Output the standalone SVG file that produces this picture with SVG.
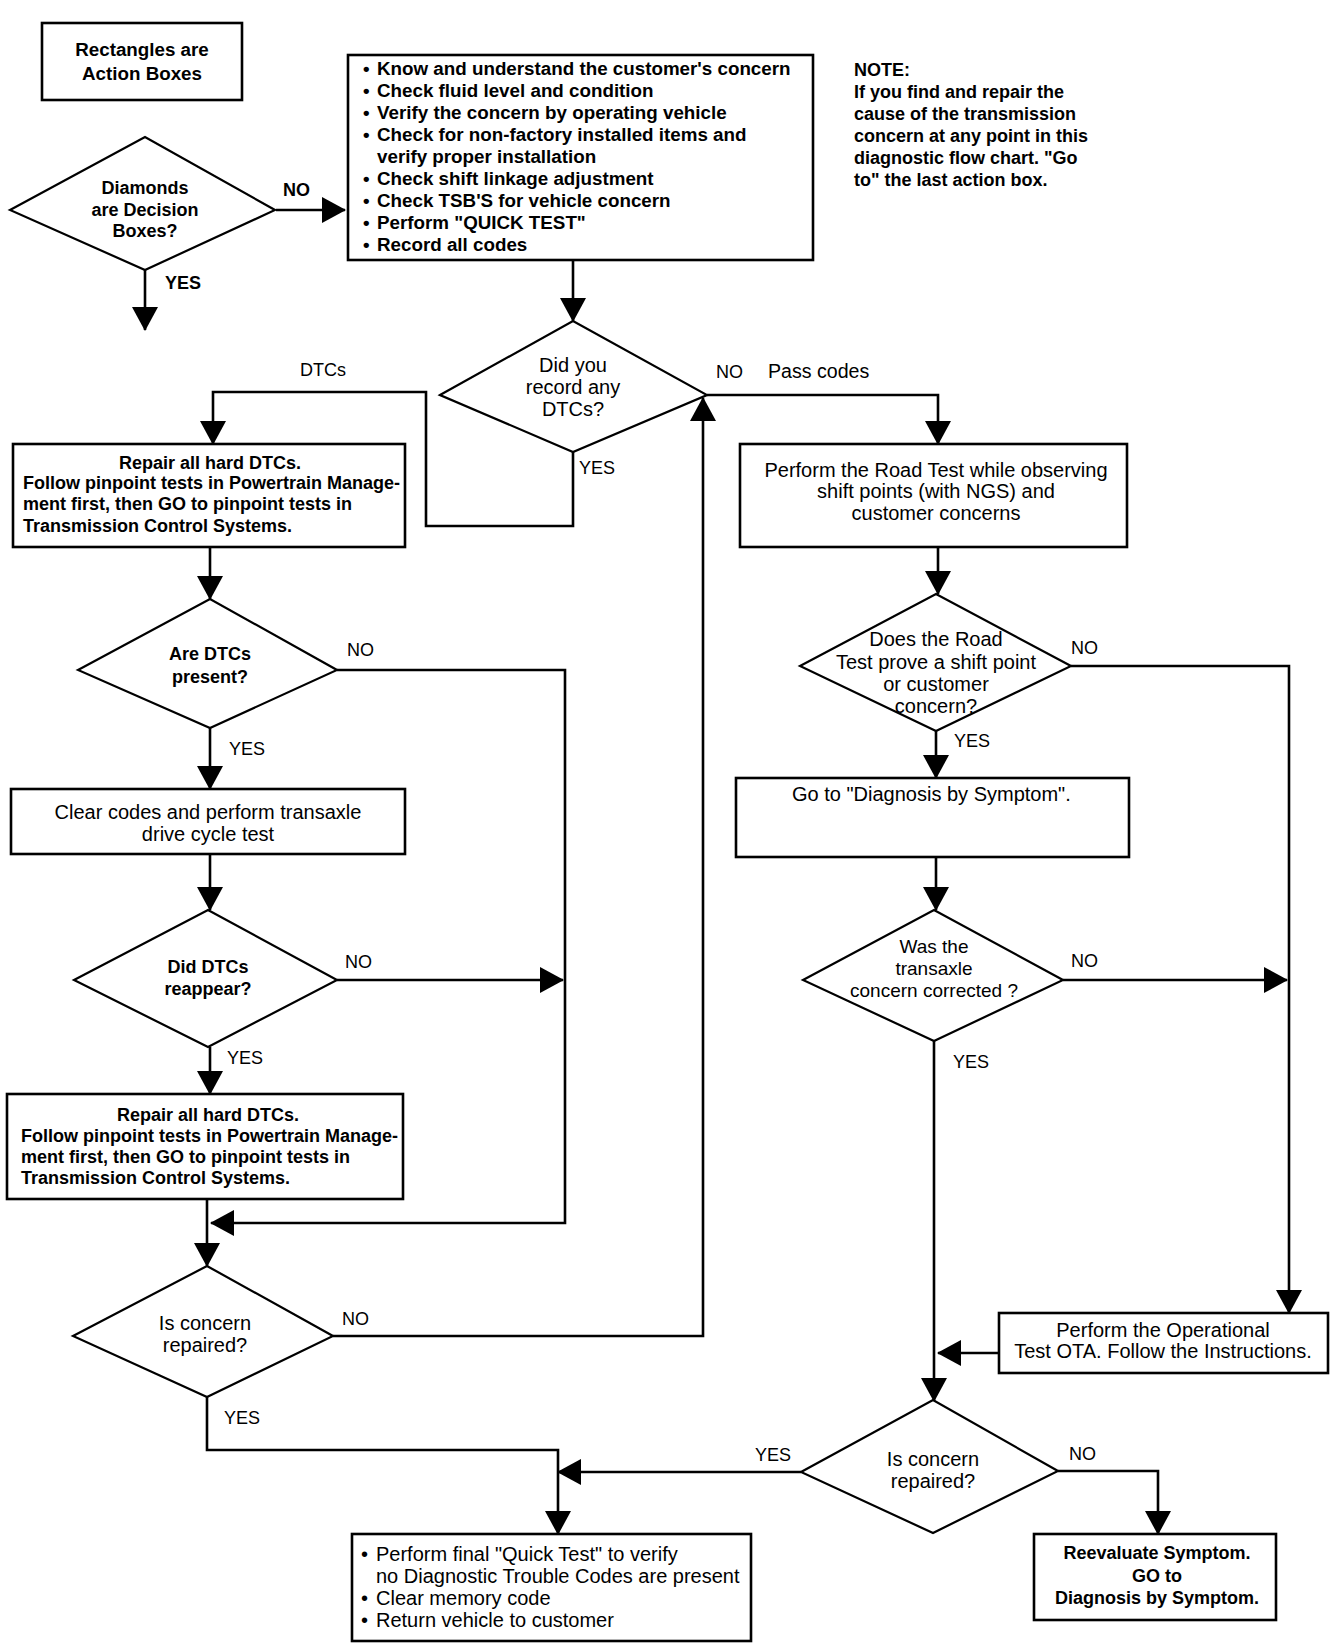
<svg xmlns="http://www.w3.org/2000/svg" width="1344" height="1646" viewBox="0 0 1344 1646">
<defs>
<style>
.box{fill:#fff;stroke:#000;stroke-width:2.6}
.dia{fill:#fff;stroke:#000;stroke-width:2.2}
.ln{fill:none;stroke:#000;stroke-width:2.6}
text{font-family:"Liberation Sans",Arial,sans-serif;fill:#000}
.b{font-size:18px;font-weight:bold}
.bm{font-size:18.8px;font-weight:bold}
.r{font-size:20px}
.r19{font-size:19px}
.lab{font-size:18px}
.labb{font-size:18px;font-weight:bold}
.c{text-anchor:middle}
</style>
<marker id="ah" markerUnits="userSpaceOnUse" viewBox="0 0 24 26" markerWidth="24" markerHeight="26" refX="23" refY="13" orient="auto">
<path d="M0,0 L24,13 L0,26 Z" fill="#000"/>
</marker>
</defs>
<rect width="1344" height="1646" fill="#fff"/>

<g id="connectors">
<path class="ln" d="M276,210 L345,210" marker-end="url(#ah)"/>
<path class="ln" d="M145,270 L145,330" marker-end="url(#ah)"/>
<path class="ln" d="M573,260 L573,321" marker-end="url(#ah)"/>
<path class="ln" d="M573,452 L573,526 L426,526 L426,392 L213,392 L213,444" marker-end="url(#ah)"/>
<path class="ln" d="M707,395 L938,395 L938,444" marker-end="url(#ah)"/>
<path class="ln" d="M938,547 L938,594" marker-end="url(#ah)"/>
<path class="ln" d="M1071,666 L1289,666 L1289,1313" marker-end="url(#ah)"/>
<path class="ln" d="M936,731 L936,778" marker-end="url(#ah)"/>
<path class="ln" d="M936,857 L936,910" marker-end="url(#ah)"/>
<path class="ln" d="M1063,980 L1287,980" marker-end="url(#ah)"/>
<path class="ln" d="M934,1041 L934,1401" marker-end="url(#ah)"/>
<path class="ln" d="M999,1353 L938,1353" marker-end="url(#ah)"/>
<path class="ln" d="M801,1472 L558,1472" marker-end="url(#ah)"/>
<path class="ln" d="M1058,1471 L1158,1471 L1158,1534" marker-end="url(#ah)"/>
<path class="ln" d="M210,547 L210,599" marker-end="url(#ah)"/>
<path class="ln" d="M337,670 L565,670 L565,1223 L211,1223" marker-end="url(#ah)"/>
<path class="ln" d="M210,728 L210,789" marker-end="url(#ah)"/>
<path class="ln" d="M210,854 L210,910" marker-end="url(#ah)"/>
<path class="ln" d="M337,980 L563,980" marker-end="url(#ah)"/>
<path class="ln" d="M210,1047 L210,1094" marker-end="url(#ah)"/>
<path class="ln" d="M207,1199 L207,1266" marker-end="url(#ah)"/>
<path class="ln" d="M333,1336 L703,1336 L703,398" marker-end="url(#ah)"/>
<path class="ln" d="M207,1397 L207,1450 L558,1450 L558,1534" marker-end="url(#ah)"/>
<text class="labb" x="283" y="196">NO</text>
<text class="labb" x="165" y="289">YES</text>
<text class="lab" x="300" y="376">DTCs</text>
<text class="lab" x="716" y="378">NO</text>
<text class="lab" x="768" y="378" style="font-size:19.6px">Pass codes</text>
<text class="lab" x="579" y="474">YES</text>
<text class="lab" x="1071" y="654">NO</text>
<text class="lab" x="954" y="747">YES</text>
<text class="lab" x="1071" y="967">NO</text>
<text class="lab" x="953" y="1068">YES</text>
<text class="lab" x="755" y="1461">YES</text>
<text class="lab" x="1069" y="1460">NO</text>
<text class="lab" x="347" y="656">NO</text>
<text class="lab" x="229" y="755">YES</text>
<text class="lab" x="345" y="968">NO</text>
<text class="lab" x="227" y="1064">YES</text>
<text class="lab" x="342" y="1325">NO</text>
<text class="lab" x="224" y="1424">YES</text>
</g>

<g id="legend">
<rect class="box" x="42" y="23" width="200" height="77"/>
<text class="bm c" x="142" y="56">Rectangles are</text>
<text class="bm c" x="142" y="80">Action Boxes</text>
</g>

<g id="legend-diamond">
<polygon class="dia" points="10,210 145,137 275,210 145,270"/>
<text class="b c" x="145" y="194">Diamonds</text>
<text class="b c" x="145" y="216">are Decision</text>
<text class="b c" x="145" y="237">Boxes?</text>
</g>

<g id="start-box">
<rect class="box" x="348" y="55" width="465" height="205"/>
<g class="bm">
<text x="363" y="75">•</text><text x="377" y="75">Know and understand the customer's concern</text>
<text x="363" y="97">•</text><text x="377" y="97">Check fluid level and condition</text>
<text x="363" y="119">•</text><text x="377" y="119">Verify the concern by operating vehicle</text>
<text x="363" y="141">•</text><text x="377" y="141">Check for non-factory installed items and</text>
<text x="377" y="163">verify proper installation</text>
<text x="363" y="185">•</text><text x="377" y="185">Check shift linkage adjustment</text>
<text x="363" y="207">•</text><text x="377" y="207">Check TSB'S  for vehicle concern</text>
<text x="363" y="229">•</text><text x="377" y="229">Perform "QUICK TEST"</text>
<text x="363" y="251">•</text><text x="377" y="251">Record all codes</text>
</g>
</g>

<g id="note">
<text class="b" x="854" y="76">NOTE:</text>
<text class="b" x="854" y="98">If you find and repair the</text>
<text class="b" x="854" y="120">cause of the transmission</text>
<text class="b" x="854" y="142">concern at any point in this</text>
<text class="b" x="854" y="164">diagnostic flow chart. "Go</text>
<text class="b" x="854" y="186">to" the last action box.</text>
</g>

<g id="did-you-record">
<polygon class="dia" points="440,395 573,321 707,395 573,452"/>
<text class="r c" x="573" y="372">Did you</text>
<text class="r c" x="573" y="394">record any</text>
<text class="r c" x="573" y="416">DTCs?</text>
</g>

<g id="repair-1">
<rect class="box" x="13" y="444" width="392" height="103"/>
<text class="b c" x="210" y="469">Repair all hard DTCs.</text>
<text class="b" x="23" y="489">Follow pinpoint tests in Powertrain Manage-</text>
<text class="b" x="23" y="510">ment first, then GO to  pinpoint tests in</text>
<text class="b" x="23" y="532">Transmission Control Systems.</text>
</g>

<g id="road-test">
<rect class="box" x="740" y="444" width="387" height="103"/>
<text class="r c" x="936" y="477">Perform the Road Test while observing</text>
<text class="r c" x="936" y="498">shift points (with NGS) and</text>
<text class="r c" x="936" y="520">customer concerns</text>
</g>

<g id="road-test-prove">
<polygon class="dia" points="800,666 936,594 1071,666 936,731"/>
<text class="r c" x="936" y="646">Does the Road</text>
<text class="r c" x="936" y="669">Test prove a shift point</text>
<text class="r c" x="936" y="691">or customer</text>
<text class="r c" x="936" y="713">concern?</text>
</g>

<g id="diag-symptom">
<rect class="box" x="736" y="778" width="393" height="79"/>
<text class="r" x="792" y="801">Go to "Diagnosis by Symptom".</text>
</g>

<g id="transaxle-corrected">
<polygon class="dia" points="803,980 934,910 1063,980 934,1041"/>
<text class="r19 c" x="934" y="953">Was the</text>
<text class="r19 c" x="934" y="975">transaxle</text>
<text class="r19 c" x="934" y="997">concern corrected ?</text>
</g>

<g id="ota">
<rect class="box" x="999" y="1313" width="329" height="60"/>
<text class="r c" x="1163" y="1337">Perform the Operational</text>
<text class="r c" x="1163" y="1358">Test OTA. Follow the Instructions.</text>
</g>

<g id="concern-repaired-right">
<polygon class="dia" points="801,1472 933,1400 1058,1471 933,1533"/>
<text class="r c" x="933" y="1466">Is concern</text>
<text class="r c" x="933" y="1488">repaired?</text>
</g>

<g id="reevaluate">
<rect class="box" x="1034" y="1534" width="242" height="86"/>
<text class="b c" x="1157" y="1559">Reevaluate Symptom.</text>
<text class="b c" x="1157" y="1582">GO to</text>
<text class="b c" x="1157" y="1604">Diagnosis by Symptom.</text>
</g>

<g id="final">
<rect class="box" x="352" y="1534" width="399" height="107"/>
<g class="r">
<text x="361" y="1561">•</text><text x="376" y="1561">Perform final "Quick Test" to verify</text>
<text x="376" y="1583">no Diagnostic Trouble Codes are present</text>
<text x="361" y="1605">•</text><text x="376" y="1605">Clear memory code</text>
<text x="361" y="1627">•</text><text x="376" y="1627">Return vehicle to customer</text>
</g>
</g>

<g id="dtcs-present">
<polygon class="dia" points="78,670 210,599 337,670 210,728"/>
<text class="b c" x="210" y="660">Are DTCs</text>
<text class="b c" x="210" y="683">present?</text>
</g>

<g id="clear-codes">
<rect class="box" x="11" y="789" width="394" height="65"/>
<text class="r c" x="208" y="819">Clear codes and perform transaxle</text>
<text class="r c" x="208" y="841">drive cycle test</text>
</g>

<g id="dtcs-reappear">
<polygon class="dia" points="74,980 208,910 337,980 208,1047"/>
<text class="b c" x="208" y="973">Did DTCs</text>
<text class="b c" x="208" y="995">reappear?</text>
</g>

<g id="repair-2">
<rect class="box" x="7" y="1094" width="396" height="105"/>
<text class="b c" x="208" y="1121">Repair all hard DTCs.</text>
<text class="b" x="21" y="1142">Follow pinpoint tests in Powertrain Manage-</text>
<text class="b" x="21" y="1163">ment first, then GO to  pinpoint tests in</text>
<text class="b" x="21" y="1184">Transmission Control Systems.</text>
</g>

<g id="concern-repaired-left">
<polygon class="dia" points="73,1336 207,1266 333,1336 207,1397"/>
<text class="r c" x="205" y="1330">Is concern</text>
<text class="r c" x="205" y="1352">repaired?</text>
</g>
</svg>
